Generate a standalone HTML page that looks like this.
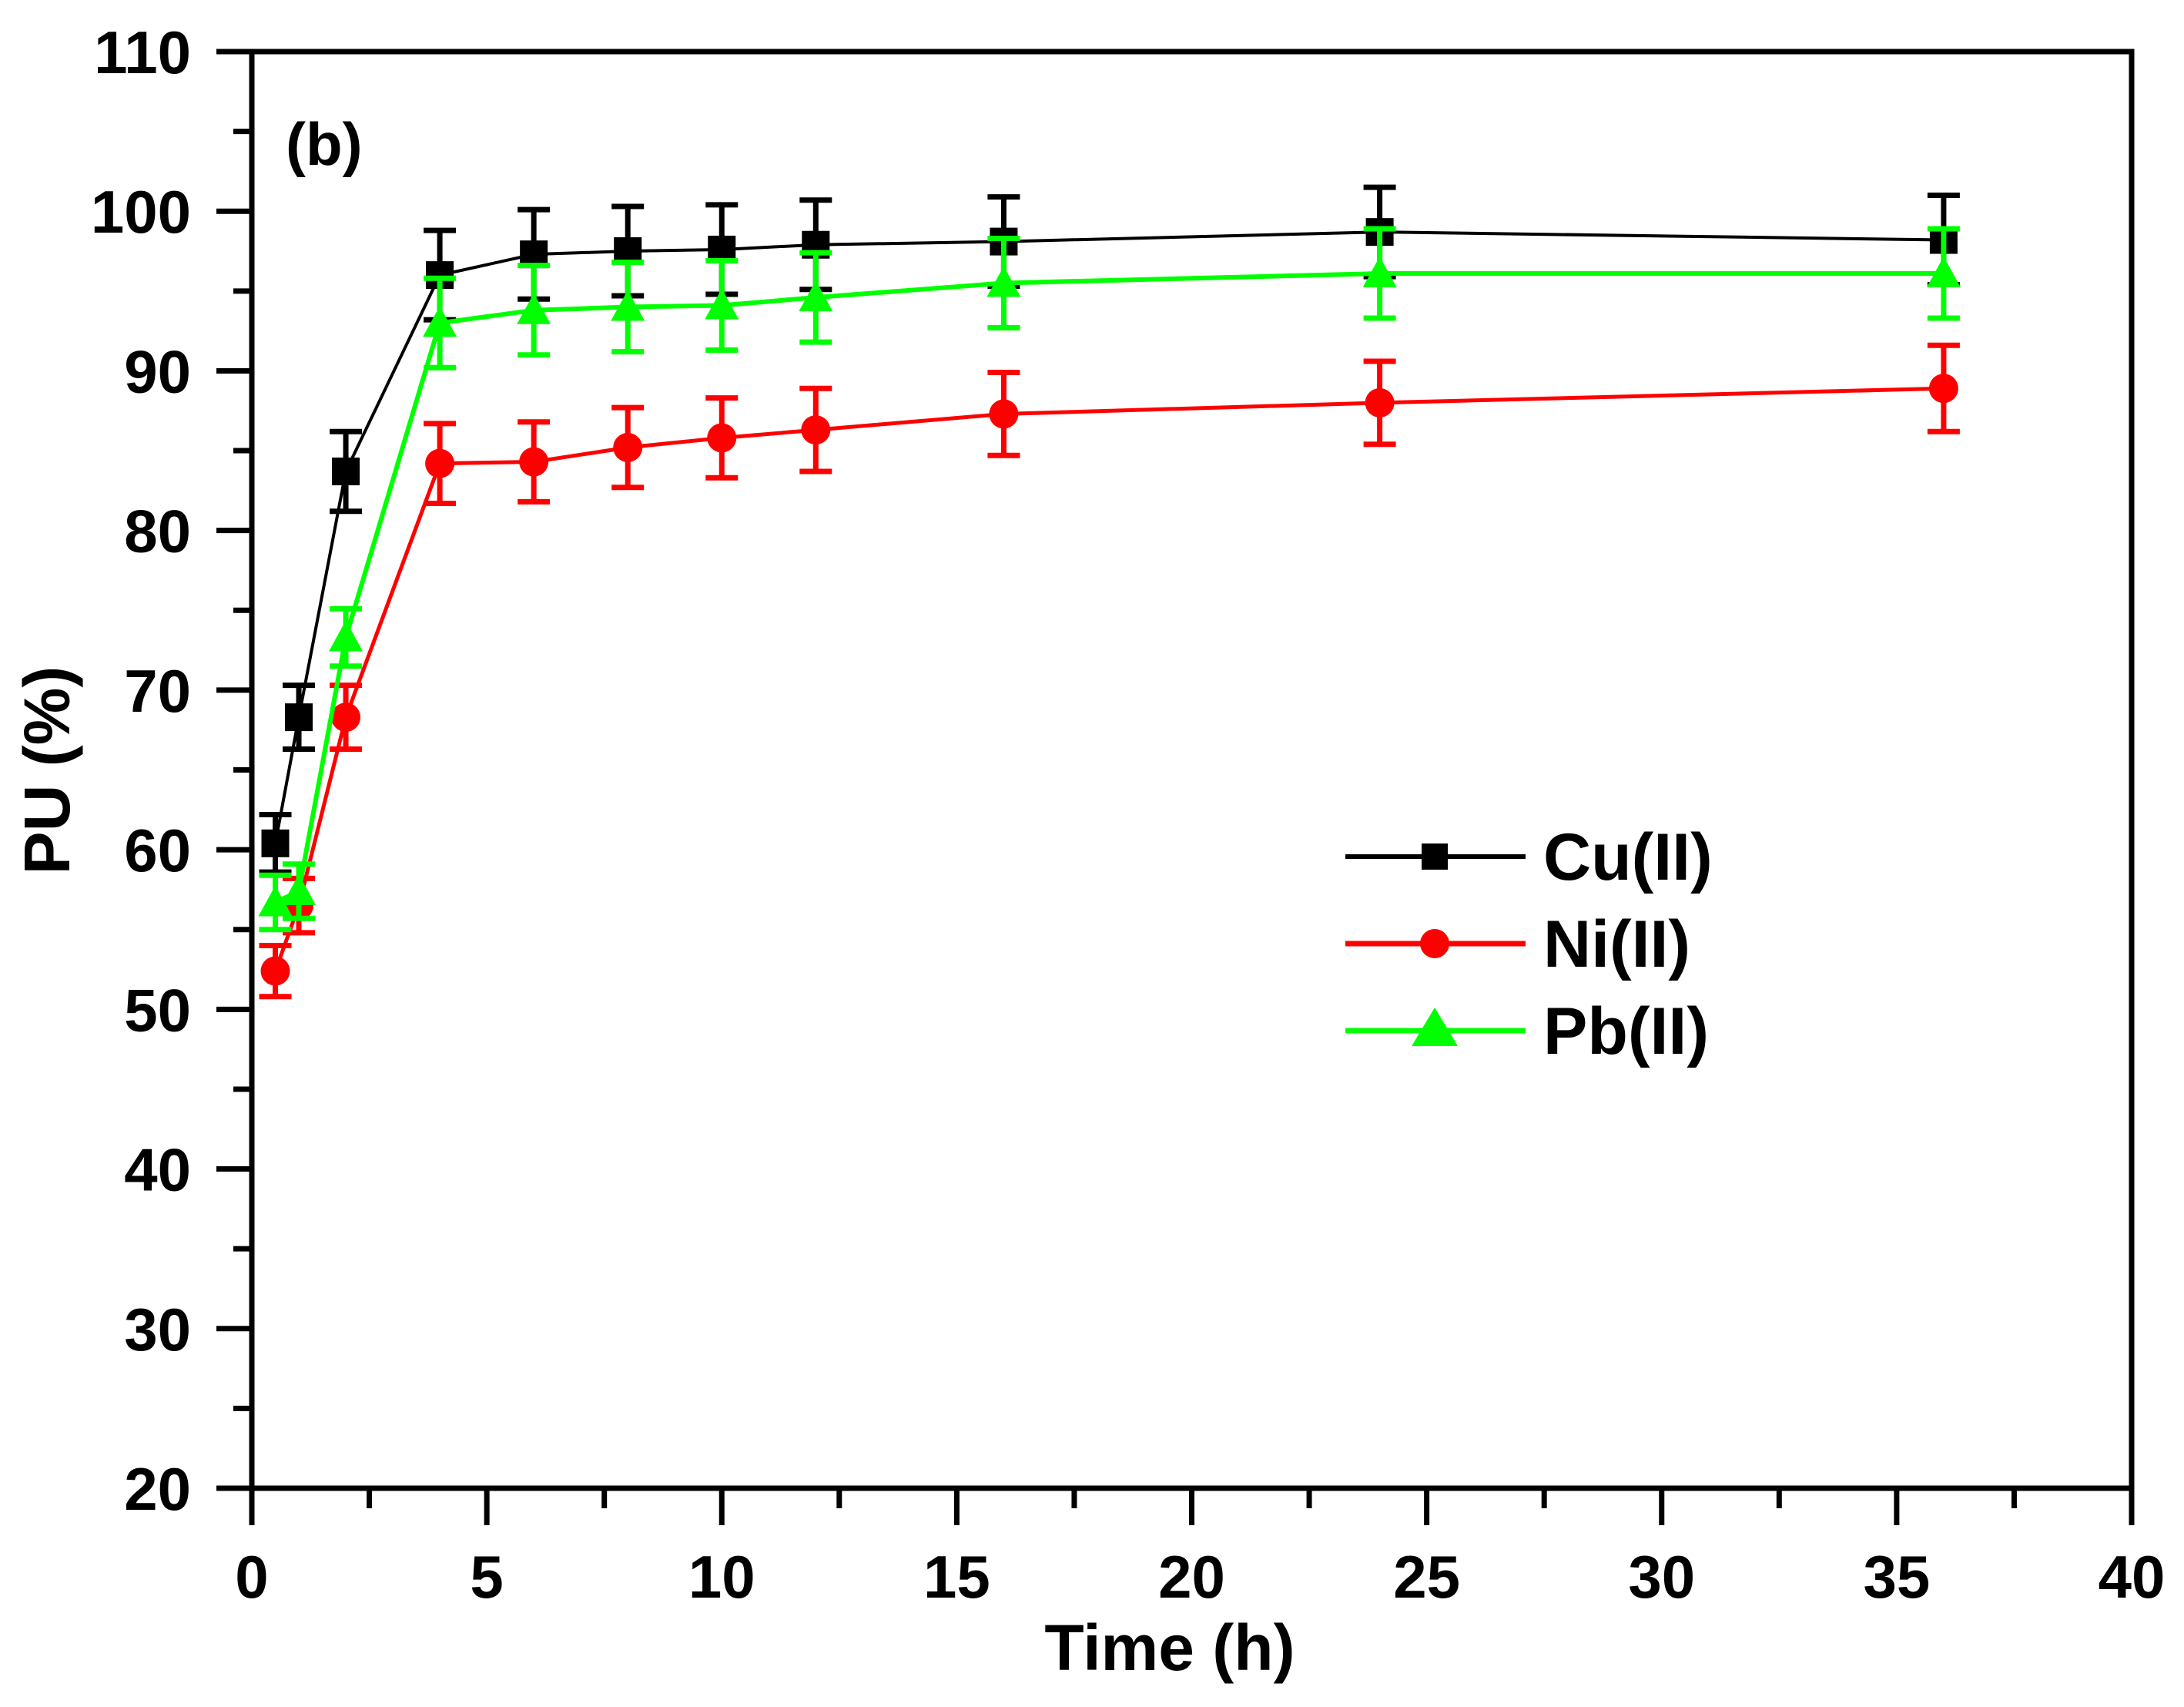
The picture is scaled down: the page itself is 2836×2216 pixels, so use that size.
<!DOCTYPE html>
<html><head><meta charset="utf-8"><style>
html,body{margin:0;padding:0;background:#fff;}
svg{display:block;font-family:"Liberation Sans",Arial,sans-serif;font-weight:bold;}
</style></head><body>
<svg id="chart" width="2836" height="2216" viewBox="0 0 2836 2216" xmlns="http://www.w3.org/2000/svg">
<rect width="2836" height="2216" fill="#fff"/>
<g id="axes"></g>
<g id="series"></g>
<text x="371" y="214" font-size="78">(b)</text>
<text x="1519" y="2168" font-size="84" text-anchor="middle">Time (h)</text>
<text x="0" y="0" font-size="84" text-anchor="middle" transform="translate(90,1000) rotate(-90)">PU (%)</text>
<g>
  <g>
    <line x1="1747" y1="1112" x2="1981" y2="1112" stroke="#000" stroke-width="6"/>
    <rect x="1846" y="1095" width="34" height="34" fill="#000"/>
    <text x="2004" y="1142" font-size="86">Cu(II)</text>
  </g>
  <g>
    <line x1="1747" y1="1225" x2="1981" y2="1225" stroke="#f00" stroke-width="7"/>
    <circle cx="1863" cy="1225" r="19" fill="#f00"/>
    <text x="2004" y="1255" font-size="86">Ni(II)</text>
  </g>
  <g>
    <line x1="1747" y1="1338" x2="1981" y2="1338" stroke="#0f0" stroke-width="7"/>
    <polygon points="1863,1308 1893,1358 1833,1358" fill="#0f0"/>
    <text x="2004" y="1368" font-size="86">Pb(II)</text>
  </g>
</g>
</svg>
<script>
const times = [0.5, 1, 2, 4, 6, 8, 10, 12, 16, 24, 36];
const cuValues = [60.4, 68.3, 83.7, 96.0, 97.3, 97.5, 97.6, 97.9, 98.1, 98.7, 98.2];
const cuErrors = [1.8, 2.0, 2.5, 2.8, 2.8, 2.8, 2.8, 2.8, 2.8, 2.8, 2.8];
const niValues = [52.4, 56.5, 68.3, 84.2, 84.3, 85.2, 85.8, 86.3, 87.3, 88.0, 88.9];
const niErrors = [1.6, 1.7, 2.0, 2.5, 2.5, 2.5, 2.5, 2.6, 2.6, 2.6, 2.7];
const pbValues = [56.7, 57.4, 73.3, 93.0, 93.8, 94.0, 94.1, 94.6, 95.5, 96.1, 96.1];
const pbErrors = [1.7, 1.7, 1.8, 2.8, 2.8, 2.8, 2.8, 2.8, 2.8, 2.8, 2.8];
const xTicks = [0, 5, 10, 15, 20, 25, 30, 35, 40];
const yTicks = [20, 30, 40, 50, 60, 70, 80, 90, 100, 110];

const X0 = 327, X1 = 2768, Y0 = 1932, Y1 = 67;
const xs = v => X0 + (v - 0) / 40 * (X1 - X0);
const ys = v => Y0 - (v - 20) / 90 * (Y0 - Y1);
const NS = "http://www.w3.org/2000/svg";
function mk(tag, attrs, parent) {
  const e = document.createElementNS(NS, tag);
  for (const k in attrs) e.setAttribute(k, attrs[k]);
  parent.appendChild(e);
  return e;
}
const axes = document.getElementById('axes');
const frame = mk('rect', {x: X0, y: Y1, width: X1 - X0, height: Y0 - Y1, fill: 'none', stroke: '#000', 'stroke-width': 7}, axes);


for (let v = 0; v <= 40; v += 2.5) {
  const major = v % 5 === 0;
  const t = mk('line', {x1: xs(v), x2: xs(v), y1: Y0, y2: Y0 + (major ? 48 : 26), stroke: '#000', 'stroke-width': 7}, axes);
  
  
}
for (let v = 20; v <= 110; v += 5) {
  const major = v % 10 === 0;
  const t = mk('line', {x1: X0, x2: X0 - (major ? 46 : 24), y1: ys(v), y2: ys(v), stroke: '#000', 'stroke-width': 7}, axes);
  
  
}
xTicks.forEach(v => {
  const t = mk('text', {x: xs(v), y: 2074, 'font-size': 78, 'text-anchor': 'middle'}, axes);
  t.textContent = v;
  
  
});
yTicks.forEach(v => {
  const t = mk('text', {x: 248, y: ys(v) + 28, 'font-size': 78, 'text-anchor': 'end'}, axes);
  t.textContent = v;
  
  
});

const series = document.getElementById('series');
function drawSeries(name, vals, errs, color, lw, marker) {
  const g = mk('g', {}, series);
  
  
  const pts = times.map((t, i) => xs(t) + ',' + ys(vals[i])).join(' ');
  const line = mk('polyline', {points: pts, fill: 'none', stroke: color, 'stroke-width': lw}, g);
  
  
  times.forEach((t, i) => {
    const cx = xs(t), cy = ys(vals[i]);
    const top = ys(vals[i] + errs[i]), bot = ys(vals[i] - errs[i]);
    const eb = mk('path', {d: `M${cx},${top}V${bot}M${cx-21},${top}H${cx+21}M${cx-21},${bot}H${cx+21}`, stroke: color, 'stroke-width': 7, fill: 'none'}, g);
    
    
    let m;
    if (marker === 'square') m = mk('rect', {x: cx - 18, y: cy - 18, width: 36, height: 36, fill: color}, g);
    else if (marker === 'circle') m = mk('circle', {cx: cx, cy: cy, r: 19, fill: color}, g);
    else m = mk('polygon', {points: `${cx},${cy-22} ${cx+22},${cy+18} ${cx-22},${cy+18}`, fill: color}, g);
    
    
  });
}
drawSeries('cu', cuValues, cuErrors, '#000', 4, 'square');
drawSeries('ni', niValues, niErrors, '#f00', 5, 'circle');
drawSeries('pb', pbValues, pbErrors, '#0f0', 6, 'triangle');
</script>
</body></html>
